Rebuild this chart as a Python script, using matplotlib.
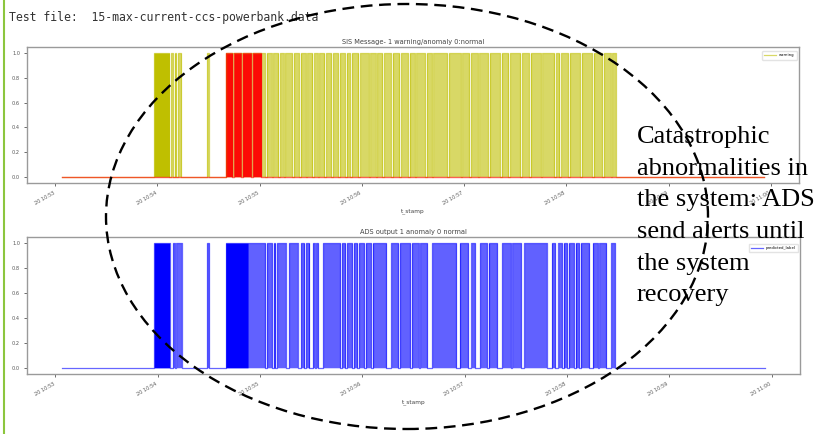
import numpy as np
import matplotlib
matplotlib.use("Agg")
import matplotlib.pyplot as plt
import matplotlib.dates as mdates
from matplotlib.patches import Ellipse

W, H, DPI = 816, 434, 100

# Readings: one per second, counted in seconds after 20th 10:53:00
t_first, t_last = 4, 416

# SIS message, warning flag: [start, end) seconds where the flag is 1
warning_on = [[58, 67], [68, 69], [70, 71], [72, 74], [89, 90], [100, 329]]
warning_dense = [[58, 67]]
warning_gaps = [123, 127, 131, 134, 139, 143, 147, 151, 154, 158, 162, 166,
                170, 173, 178, 184, 188, 192, 197, 202, 207, 211, 217, 221,
                230, 238, 243, 248, 254, 261, 266, 273, 278, 285, 293, 296,
                301, 308, 315, 321, 326]

# SIS message, anomaly flag
anomaly_on = [[100, 121]]
anomaly_gaps = [104, 109, 115]

# ADS output, predicted label
label_on = [[58, 67], [69, 70], [71, 74], [89, 90], [100, 123],
            [124, 127], [128, 129], [130, 135], [137, 142], [144, 146],
            [147, 149], [151, 152], [153, 154], [157, 167], [168, 170],
            [171, 174], [175, 177], [178, 181], [182, 185], [186, 194],
            [197, 201], [202, 208], [209, 213], [214, 218], [221, 235],
            [237, 242], [244, 246], [249, 253], [254, 259], [262, 267],
            [268, 273], [275, 288], [291, 293], [295, 297], [298, 300],
            [301, 304], [305, 307], [308, 313], [315, 318], [319, 323],
            [326, 328]]
label_dense = [[58, 67], [100, 113]]

sec = np.arange(t_first, t_last + 1)
times = np.datetime64("2021-05-20T10:53:00") + sec.astype("timedelta64[s]")


def binary(on, gaps=()):
    v = np.zeros(len(sec))
    for a, b in on:
        v[(sec >= a) & (sec < b)] = 1
    for g in gaps:
        v[sec == g] = 0
    return v


warning = binary(warning_on, warning_gaps)
warning_d = binary(warning_dense)
anomaly = binary(anomaly_on, anomaly_gaps)
label = binary(label_on)
label_d = binary(label_dense)

fig = plt.figure(figsize=(W / DPI, H / DPI), dpi=DPI)
fig.patch.set_facecolor("white")


def px_axes(left, top, right, bottom):
    return fig.add_axes([left / W, 1 - bottom / H, (right - left) / W, (bottom - top) / H])


def draw_binary(ax, v, dense, color, label_txt=None, fill_alpha=0.6, line_alpha=0.6, lw=0.9):
    ax.fill_between(times, 0, v, step="post", color=color, alpha=fill_alpha, lw=0)
    ax.fill_between(times, 0, dense, step="post", color=color, alpha=1.0, lw=0)
    ax.plot(times, v, drawstyle="steps-post", color=color, alpha=line_alpha,
            lw=lw, label=label_txt)


def style(ax, title):
    ax.set_title(title, fontsize=4.8, color="#444", pad=2.5)
    ax.xaxis.set_major_locator(mdates.MinuteLocator())
    ax.xaxis.set_major_formatter(mdates.DateFormatter("%d %H:%M"))
    ax.set_yticks([0.0, 0.2, 0.4, 0.6, 0.8, 1.0])
    ax.set_yticklabels(["0.0", "0.2", "0.4", "0.6", "0.8", "1.0"])
    ax.tick_params(labelsize=3.6, labelcolor="#555", length=2, width=0.6,
                   color="#555", pad=3)
    for lab in ax.get_xticklabels():
        lab.set_rotation(30)
        lab.set_ha("right")
    ax.set_xlabel("t_stamp", fontsize=4.2, color="#444", labelpad=2)
    for s in ax.spines.values():
        s.set_color("#9a9a9a")
        s.set_linewidth(1.0)
    ax.margins(x=0.05, y=0.05)


ax1 = px_axes(27, 47, 799, 183)
draw_binary(ax1, warning, warning_d, "y", "warning")
draw_binary(ax1, anomaly, np.zeros(len(sec)), "red", None,
            fill_alpha=0.95, line_alpha=0.6, lw=1.0)
style(ax1, "SIS Message- 1 warning/anomaly 0:normal")
ax1.legend(loc="upper right", fontsize=2.8, frameon=True, framealpha=0.8,
           edgecolor="#dddddd", handlelength=3, borderpad=0.6,
           bbox_to_anchor=(1.0, 0.985))

ax2 = px_axes(27, 237, 800, 374)
draw_binary(ax2, label, label_d, "blue", "predicted_label", fill_alpha=0.62, line_alpha=0.6)
style(ax2, "ADS output 1 anomaly 0 normal")
ax2.legend(loc="upper right", fontsize=2.8, frameon=True, framealpha=0.8,
           edgecolor="#dddddd", handlelength=3, borderpad=0.6,
           bbox_to_anchor=(1.0, 0.965))

# Left page rule
fig.add_artist(plt.Line2D([3.5 / W, 3.5 / W], [0, 1], transform=fig.transFigure,
                          color="#8cc63e", lw=1.5))

fig.text(9 / W, 1 - 21 / H, "Test file:  15-max-current-ccs-powerbank.data",
         family="DejaVu Sans Mono", fontsize=8.3, color="#333333", va="baseline")

# Dashed outline around the alert period
fig.add_artist(Ellipse((407 / W, 1 - 216.5 / H), 602 / W, 425 / H,
                       transform=fig.transFigure, fill=False, ec="black",
                       lw=1.7, linestyle=(0, (5, 2.8)), zorder=10))

fig.text(637 / W, 1 - 126 / H,
         "Catastrophic\nabnormalities in\nthe system: ADS\nsend alerts until\nthe system\nrecovery",
         family="Liberation Serif", fontsize=19, color="black", va="top", ha="left",
         linespacing=1.57, zorder=9)

fig.savefig("out.png", dpi=DPI, facecolor="white")
